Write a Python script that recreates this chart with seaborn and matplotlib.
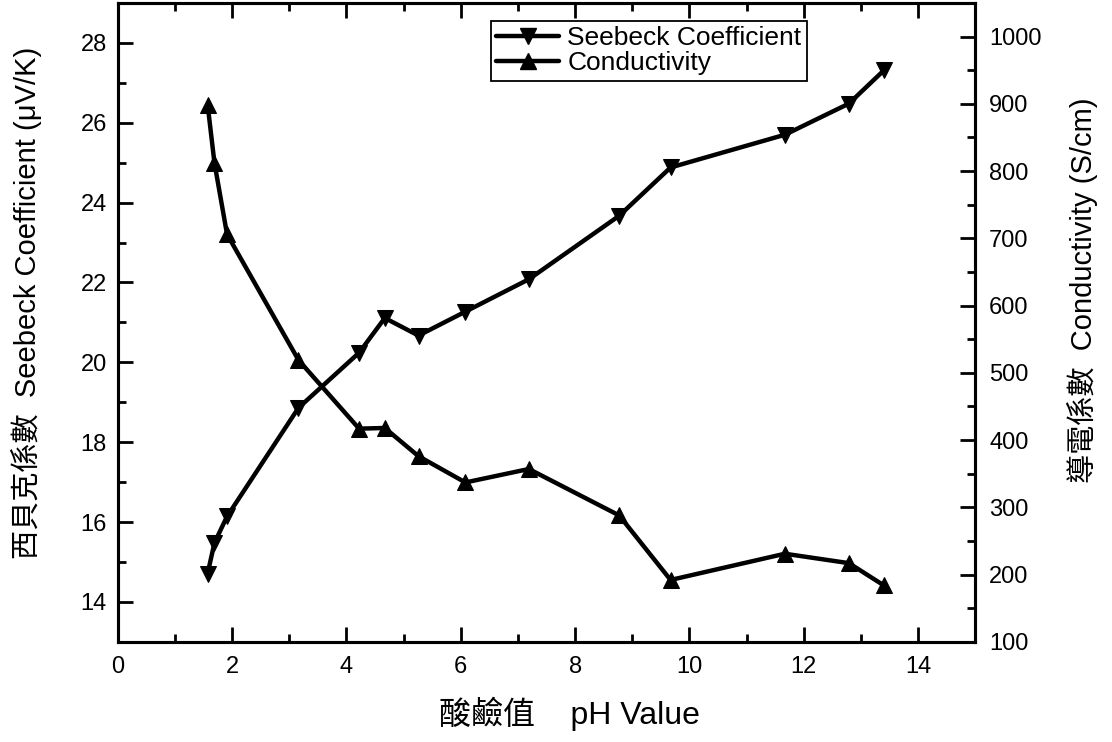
import pandas as pd
import matplotlib
matplotlib.use("Agg")
import matplotlib.pyplot as plt
import seaborn as sns
from matplotlib.ticker import MultipleLocator
from matplotlib.lines import Line2D

# data
ph_value = [1.57, 1.69, 1.91, 3.16, 4.22, 4.67, 5.26, 6.08, 7.19, 8.77, 9.67, 11.67, 12.79, 13.40]
seebeck = [14.71, 15.48, 16.14, 18.86, 20.24, 21.11, 20.67, 21.27, 22.08, 23.67, 24.88, 25.70, 26.48, 27.31]
conductivity = [899, 812, 706, 519, 417, 418, 376, 337, 357, 288, 192, 231, 217, 184]

df = pd.DataFrame({'pH': ph_value, 'Seebeck': seebeck, 'Conductivity': conductivity})

sns.set_theme(style="ticks")
plt.rcParams['font.family'] = ['Liberation Sans', 'Noto Sans CJK TC', 'DejaVu Sans']
plt.rcParams['text.color'] = 'black'
plt.rcParams['axes.labelcolor'] = 'black'
plt.rcParams['xtick.color'] = 'black'
plt.rcParams['ytick.color'] = 'black'

fig = plt.figure(figsize=(11.12, 7.42), dpi=100)
ax = fig.add_axes([0.106, 0.135, 0.771, 0.861])
ax2 = ax.twinx()

line_kw = dict(color='black', linewidth=3.2, markersize=12, markeredgecolor='black')
sns.lineplot(data=df, x='pH', y='Seebeck', marker='v', ax=ax, **line_kw)
sns.lineplot(data=df, x='pH', y='Conductivity', marker='^', ax=ax2, **line_kw)

ax.set_xlim(0, 15)
ax.set_ylim(13, 29)
ax2.set_ylim(100, 1050)

ax.xaxis.set_major_locator(MultipleLocator(2))
ax.xaxis.set_minor_locator(MultipleLocator(1))
ax.yaxis.set_major_locator(MultipleLocator(2))
ax.yaxis.set_minor_locator(MultipleLocator(1))
ax2.yaxis.set_major_locator(MultipleLocator(100))
ax2.yaxis.set_minor_locator(MultipleLocator(50))

ax.tick_params(axis='x', which='both', direction='in', top=True, width=2, labelsize=17, pad=10)
ax.tick_params(axis='y', which='both', direction='in', right=False, width=2, labelsize=17, pad=8)
ax.tick_params(which='major', length=11)
ax.tick_params(which='minor', length=6)
ax2.tick_params(axis='y', which='both', direction='in', width=2, labelsize=17, pad=10)
ax2.tick_params(which='major', length=11)
ax2.tick_params(which='minor', length=6)
for a in (ax, ax2):
    for s in a.spines.values():
        s.set_linewidth(2.2)
        s.set_color('black')
        s.set_visible(True)

ax.set_xlabel('酸鹼值    pH Value', fontsize=23)
ax.xaxis.set_label_coords(0.527, -0.086)
ax.set_ylabel('西貝克係數  Seebeck Coefficient (μV/K)', fontsize=21)
ax.yaxis.set_label_coords(-0.088, 0.53)
ax2.set_ylabel('導電係數  Conductivity (S/cm)', fontsize=21)
ax2.yaxis.set_label_coords(1.107, 0.55)

handles = [
    Line2D([], [], color='black', linewidth=3.2, marker='v', markersize=11),
    Line2D([], [], color='black', linewidth=3.2, marker='^', markersize=11),
]
ax2.legend(handles, ['Seebeck Coefficient', 'Conductivity'], loc='upper left',
           bbox_to_anchor=(0.435, 0.972), fontsize=19, frameon=True, fancybox=False,
           edgecolor='black', framealpha=1, handlelength=2.4, borderpad=0.2,
           labelspacing=0.05, handletextpad=0.3, borderaxespad=0)
ax2.get_legend().get_frame().set_linewidth(1.3)

fig.savefig('out.png', dpi=100)
